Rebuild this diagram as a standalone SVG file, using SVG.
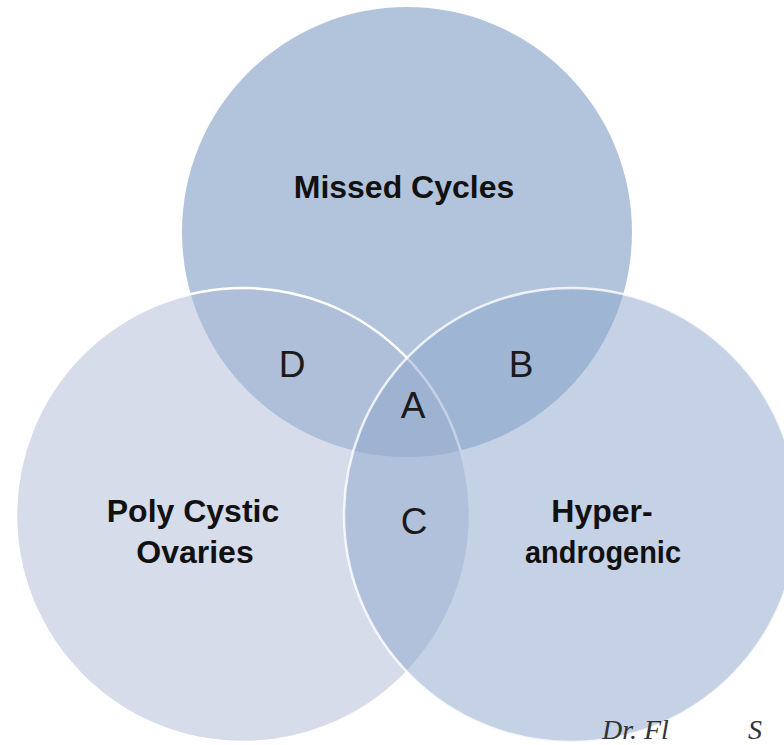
<svg xmlns="http://www.w3.org/2000/svg" width="784" height="745" viewBox="0 0 784 745">
<style>
.lbl{font-family:"Liberation Sans",Arial,sans-serif;font-weight:bold;font-size:32px;fill:#111;text-anchor:middle}
.let{font-family:"Liberation Sans",Arial,sans-serif;font-size:37px;fill:#1a1a1a;text-anchor:middle}
.sig{font-family:"Liberation Serif",serif;font-style:italic;font-size:28px;fill:#333}
</style>
<rect width="784" height="745" fill="#ffffff"/>
<g id="missed-cycles">
<circle cx="407" cy="232" r="225" fill="#b2c4dc"/>
</g>
<g id="poly-cystic-ovaries">
<circle cx="243" cy="515" r="227" fill="#adb9d5" fill-opacity="0.5" stroke="#ffffff" stroke-width="2.5"/>
</g>
<g id="hyperandrogenic">
<circle cx="571" cy="515" r="227" fill="#8ba5cb" fill-opacity="0.5" stroke="#ffffff" stroke-opacity="0.8" stroke-width="2.5"/>
</g>
<g id="labels">
<text class="lbl" x="404" y="198">Missed Cycles</text>
<text class="lbl" x="193" y="522">Poly Cystic</text>
<text class="lbl" x="195" y="563">Ovaries</text>
<text class="lbl" x="602" y="522">Hyper-</text>
<text class="lbl" x="603" y="563" textLength="156" lengthAdjust="spacingAndGlyphs">androgenic</text>
<text class="let" x="292" y="377">D</text>
<text class="let" x="521" y="377">B</text>
<text class="let" x="413" y="418">A</text>
<text class="let" x="414" y="534">C</text>
<text class="sig" x="602" y="739">Dr. Fl</text>
<text class="sig" x="748" y="739">S</text>
</g>
</svg>
